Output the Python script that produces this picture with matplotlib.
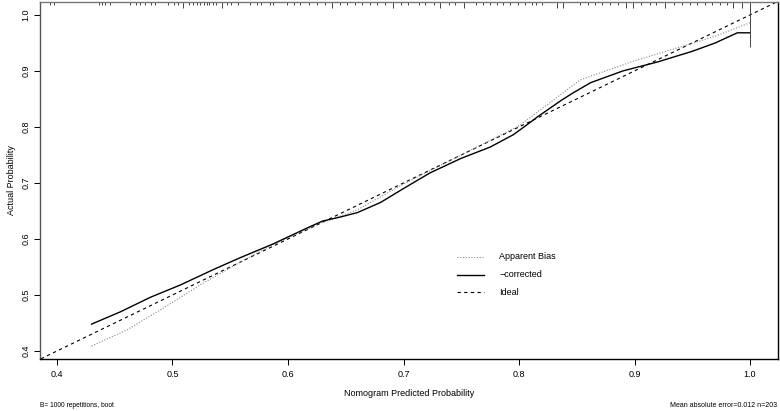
import matplotlib
matplotlib.use("Agg")
import matplotlib.pyplot as plt
import numpy as np

plt.rcParams['font.family'] = ['Liberation Sans', 'DejaVu Sans']

# bias-corrected calibration curve
corr_x = [0.430, 0.455, 0.481, 0.507, 0.535, 0.558, 0.587, 0.617, 0.630, 0.645,
          0.660, 0.680, 0.700, 0.723, 0.750, 0.775, 0.795, 0.807, 0.816, 0.837,
          0.847, 0.862, 0.890, 0.920, 0.950, 0.970, 0.989, 1.000]
corr_y = [0.448, 0.470, 0.496, 0.518, 0.545, 0.566, 0.591, 0.620, 0.632, 0.639,
          0.647, 0.665, 0.690, 0.718, 0.744, 0.764, 0.786, 0.804, 0.818, 0.848,
          0.861, 0.879, 0.900, 0.916, 0.935, 0.950, 0.968, 0.968]

# apparent calibration curve
app_x = [0.430, 0.460, 0.490, 0.524, 0.560, 0.587, 0.628, 0.660, 0.700, 0.750,
         0.800, 0.853, 0.900, 0.940, 0.970, 1.000]
app_y = [0.409, 0.437, 0.474, 0.518, 0.560, 0.590, 0.628, 0.652, 0.698, 0.750,
         0.802, 0.884, 0.918, 0.943, 0.962, 0.986]

# rug of predicted probabilities along the top (relative frequency)
rug_x = [0.394, 0.397, 0.436, 0.439, 0.442, 0.446, 0.463, 0.468, 0.472, 0.476,
         0.481, 0.485, 0.496, 0.501, 0.505, 0.509, 0.514, 0.518, 0.521, 0.524,
         0.527, 0.530, 0.532, 0.535, 0.538, 0.543, 0.547, 0.551, 0.557, 0.567,
         0.573, 0.577, 0.584, 0.587, 0.599, 0.605, 0.610, 0.618, 0.625, 0.632,
         0.638, 0.645, 0.651, 0.658, 0.664, 0.671, 0.677, 0.684, 0.691, 0.698,
         0.704, 0.713, 0.719, 0.726, 0.732, 0.739, 0.745, 0.752, 0.763, 0.769,
         0.775, 0.781, 0.786, 0.792, 0.799, 0.805, 0.811, 0.815, 0.820, 0.833,
         0.838, 0.853, 0.860, 0.866, 0.872, 0.879, 0.886, 0.893, 0.899, 0.906,
         0.913, 0.919, 0.926, 0.934, 0.941, 0.948, 0.954, 0.961, 0.967, 0.974,
         0.980, 0.985, 0.993, 1.000]
rug_n = [1, 1, 1, 1, 1, 1, 1, 1, 1, 1,
         1, 1, 1, 1, 1, 2, 1, 1, 1, 1,
         1, 1, 1, 1, 1, 2, 1, 1, 1, 1,
         1, 1, 1, 1, 1, 1, 1, 1, 1, 1,
         2, 1, 1, 1, 1, 1, 1, 1, 2, 1,
         1, 1, 1, 1, 2, 1, 1, 2, 1, 1,
         1, 1, 1, 1, 1, 1, 1, 1, 1, 2,
         2, 1, 1, 1, 1, 1, 1, 2, 2, 1,
         1, 1, 2, 1, 1, 1, 1, 1, 1, 1,
         1, 2, 2, 16]

xticks = [0.4, 0.5, 0.6, 0.7, 0.8, 0.9, 1.0]
yticks = [0.4, 0.5, 0.6, 0.7, 0.8, 0.9, 1.0]

fig = plt.figure(figsize=(7.8, 4.11), dpi=100)
ax = fig.add_axes([40/780, 1-359/411, 738/780, 357/411])
ax.set_xlim(0.3853, 1.0242)
ax.set_ylim(0.3857, 1.023)

ax.plot([0, 1.1], [0, 1.1], ls=(0, (3, 3)), color='black', lw=0.8)
ax.plot(app_x, app_y, ls=(0, (1, 1.5)), color='#888888', lw=0.8)
ax.plot(corr_x, corr_y, ls='-', color='black', lw=1.0)

# rug ticks from the top edge
unit = 2.8 / 357 * (1.023 - 0.3857)
for x, n in zip(rug_x, rug_n):
    ax.plot([x, x], [1.023, 1.023 - n * unit], color='#444444', lw=0.7,
            solid_capstyle='butt', clip_on=False)

# legend drawn by hand like R
lx0, lx1, tx = 0.746, 0.770, 0.783
for yy, ls, col, lw, lab in [(0.568, (0, (1, 1.5)), '#888888', 0.8, 'Apparent Bias'),
                             (0.536, '-', 'black', 1.0, '\u2212corrected'),
                             (0.505, (0, (3, 3)), 'black', 0.8, 'Ideal')]:
    ax.plot([lx0, lx1], [yy, yy], ls=ls, color=col, lw=lw)
    ax.text(tx, yy, lab, fontsize=6.5, va='center', ha='left')

ax.set_xticks(xticks)
ax.set_yticks(yticks)
ax.set_xticklabels(['%.1f' % v for v in xticks])
ax.set_yticklabels(['%.1f' % v for v in yticks], rotation=90, va='center')
ax.tick_params(labelsize=6.5, length=4, width=0.7)
ax.tick_params(axis='x', pad=4)
ax.tick_params(axis='y', pad=3)
for s in ax.spines.values():
    s.set_linewidth(1.0)
ax.spines['top'].set_color('#777777')
ax.spines['left'].set_color('#555555')

fig.text(409/780, 1-393/411, 'Nomogram Predicted Probability', fontsize=6.5,
         ha='center', va='center')
fig.text(12/780, 1-180/411, 'Actual Probability', fontsize=6.5, rotation=90,
         ha='center', va='center')
fig.text(40/780, 1-405/411, 'B= 1000 repetitions, boot', fontsize=4.8,
         ha='left', va='center')
fig.text(777/780, 1-405/411, 'Mean absolute error=0.012 n=203', fontsize=5,
         ha='right', va='center')

plt.savefig('out.png', dpi=100)
